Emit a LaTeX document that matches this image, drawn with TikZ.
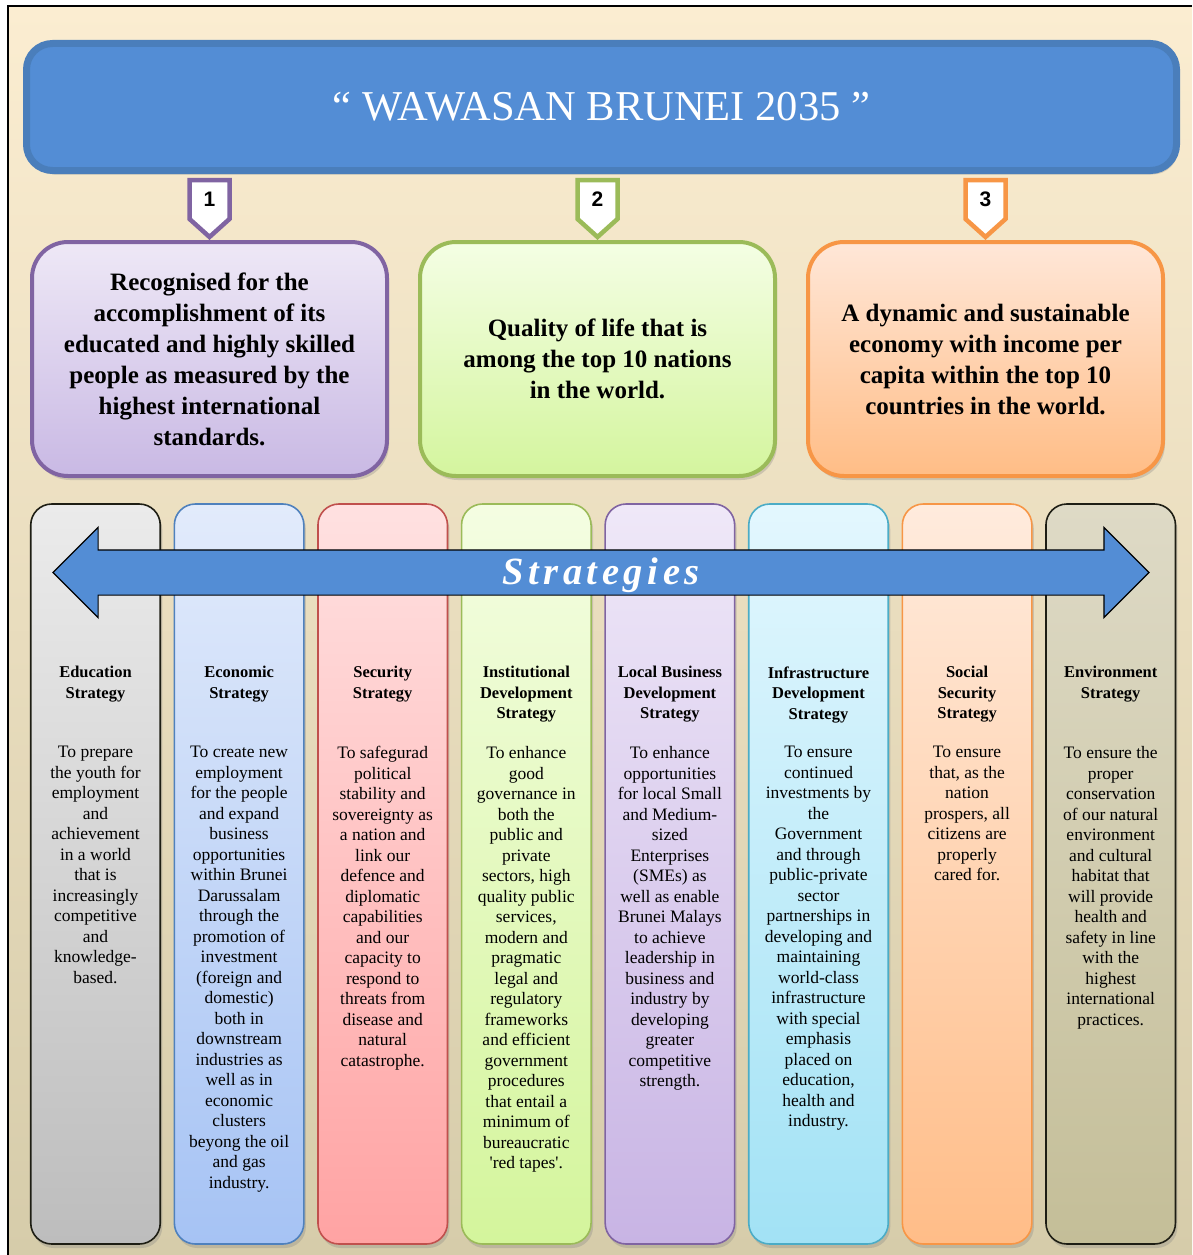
\documentclass[tikz,border=0pt]{standalone}
\usepackage{fontspec}
\setmainfont{Liberation Serif}
\newfontfamily\stratfont[LetterSpace=12]{Liberation Serif}
\newfontfamily\numfont{Liberation Sans}
\usepackage{tikz}
\usetikzlibrary{positioning}
\usetikzlibrary{shapes}
\usetikzlibrary{chains}
\usetikzlibrary{shadows}

\definecolor{bgtop}{HTML}{FBEDD1}
\definecolor{bgbot}{HTML}{D6CCAA}
\definecolor{titleblue}{HTML}{538DD5}
\definecolor{titleline}{HTML}{4A7EBB}
\definecolor{purpleline}{HTML}{8064A2}
\definecolor{greenline}{HTML}{9BBB59}
\definecolor{orangeline}{HTML}{F79646}
\definecolor{blueline}{HTML}{4F81BD}
\definecolor{redline}{HTML}{C0504D}
\definecolor{cyanline}{HTML}{4BACC6}
\definecolor{darkline}{HTML}{1E1E14}
% goal fills
\definecolor{g1top}{HTML}{EEE8F6} \definecolor{g1bot}{HTML}{C9B9E4}
\definecolor{g2top}{HTML}{F4FEE4} \definecolor{g2bot}{HTML}{D4F59E}
\definecolor{g3top}{HTML}{FFE7D8} \definecolor{g3bot}{HTML}{FFBD86}
% column fills
\definecolor{s1top}{HTML}{EBEBEB} \definecolor{s1bot}{HTML}{BDBDBD}
\definecolor{s2top}{HTML}{E2EBFB} \definecolor{s2bot}{HTML}{A6C3F4}
\definecolor{s3top}{HTML}{FFE1E1} \definecolor{s3bot}{HTML}{FFA3A3}
\definecolor{s4top}{HTML}{F4FDE2} \definecolor{s4bot}{HTML}{D4F59C}
\definecolor{s5top}{HTML}{EFE8F8} \definecolor{s5bot}{HTML}{C8B4E4}
\definecolor{s6top}{HTML}{E3F7FE} \definecolor{s6bot}{HTML}{A2E2F5}
\definecolor{s7top}{HTML}{FFEBDD} \definecolor{s7bot}{HTML}{FFBD88}
\definecolor{s8top}{HTML}{DEDAC6} \definecolor{s8bot}{HTML}{C4BE98}

\begin{document}
\begin{tikzpicture}[
    x=1pt, y=-1pt,            % work on the pixel grid, y going down
    start chain=going right,  % strategy columns run left-to-right
    node distance=12.5pt,     % gap between the columns
    ]
% -------------------------------------------------
\tikzset{
  base/.style={align=center, inner sep=0pt},
  shade/.style={drop shadow={opacity=.3, shadow xshift=2pt, shadow yshift=-4pt}},
  banner/.style={base, shade, draw=titleline, fill=titleblue, line width=7pt, rounded corners=26pt, minimum width=1150pt, minimum height=127pt, text=white, font=\fontsize{42.5}{48}\selectfont},
  goal/.style={base, shade, draw, line width=4pt, rounded corners=36pt, minimum width=355pt, minimum height=234pt, font=\fontsize{25}{31}\selectfont\bfseries},
  badge/.style={base, draw, fill=white, signal, signal to=south, signal pointer angle=96, line width=4.5pt, minimum width=40pt, minimum height=44pt, font=\numfont\fontsize{21}{24}\selectfont\bfseries},
  col/.style={base, shade, draw, on chain, line width=1.6pt, rounded corners=21pt, minimum width=129.5pt, minimum height=740pt},
  head/.style={base, font=\fontsize{16.5}{20.5}\selectfont\bfseries},
  body/.style={base, font=\fontsize{17.5}{20.5}\selectfont},
  twoway/.style={draw, double arrow, fill=titleblue, line width=1.2pt, minimum height=1096pt, minimum width=89pt, double arrow head extend=22.5pt, double arrow tip angle=90, inner xsep=0pt, inner ysep=22pt},
  strat/.style={base, text=white, font=\stratfont\fontsize{38.5}{40}\selectfont\bfseries\itshape}
}
% -------------------------------------------------
% Background and frame

\useasboundingbox (0,0) rectangle (1192,1255);
\fill [top color=bgtop, bottom color=bgbot] (8,6) rectangle (1192,1255);
\draw [line width=2pt] (8,1255) -- (8,6) -- (1192,6);

% -------------------------------------------------
% Vision and its three goals

\node [banner] (title) at (601.5,107) {`` WAWASAN BRUNEI 2035 ''};

\node [goal, draw=purpleline, top color=g1top, bottom color=g1bot] (g1) at (209.5,359)
  {Recognised for the\\accomplishment of its\\educated and highly skilled\\people as measured by the\\highest international\\standards.};
\node [goal, draw=greenline, top color=g2top, bottom color=g2bot, right=29pt of g1] (g2)
  {Quality of life that is\\among the top 10 nations\\in the world.};
\node [goal, draw=orangeline, top color=g3top, bottom color=g3bot, right=29pt of g2] (g3)
  {A dynamic and sustainable\\economy with income per\\capita within the top 10\\countries in the world.};

\node [badge, draw=purpleline, above=0pt of g1.north] (n1) {1};
\node [badge, draw=greenline, above=0pt of g2.north] (n2) {2};
\node [badge, draw=orangeline, above=0pt of g3.north] (n3) {3};

% -------------------------------------------------
% Strategy columns

\node [col, draw=darkline, top color=s1top, bottom color=s1bot] (s1) at (95.5,874) {};
\node [col, draw=blueline, top color=s2top, bottom color=s2bot] (s2) {};
\node [col, draw=redline, top color=s3top, bottom color=s3bot] (s3) {};
\node [col, draw=greenline, top color=s4top, bottom color=s4bot] (s4) {};
\node [col, draw=purpleline, top color=s5top, bottom color=s5bot] (s5) {};
\node [col, draw=cyanline, top color=s6top, bottom color=s6bot, minimum width=139.5pt] (s6) {};
\node [col, draw=orangeline, top color=s7top, bottom color=s7bot] (s7) {};
\node [col, draw=darkline, top color=s8top, bottom color=s8bot] (s8) {};

\node [head, below=163pt of s1.north] (h1) {Education\\Strategy};
\node [head, below=163pt of s2.north] (h2) {Economic\\Strategy};
\node [head, below=163pt of s3.north] (h3) {Security\\Strategy};
\node [head, below=163pt of s4.north] (h4) {Institutional\\Development\\Strategy};
\node [head, below=163pt of s5.north] (h5) {Local Business\\Development\\Strategy};
\node [head, below=163pt of s6.north] (h6) {Infrastructure\\Development\\Strategy};
\node [head, below=163pt of s7.north] (h7) {Social\\Security\\Strategy};
\node [head, below=163pt of s8.north] (h8) {Environment\\Strategy};

\node [body, below=243pt of s1.north] (t1) {To prepare\\the youth for\\employment\\and\\achievement\\in a world\\that is\\increasingly\\competitive\\and\\knowledge-\\based.};
\node [body, below=243pt of s2.north] (t2) {To create new\\employment\\for the people\\and expand\\business\\opportunities\\within Brunei\\Darussalam\\through the\\promotion of\\investment\\(foreign and\\domestic)\\both in\\downstream\\industries as\\well as in\\economic\\clusters\\beyong the oil\\and gas\\industry.};
\node [body, below=243pt of s3.north] (t3) {To safegurad\\political\\stability and\\sovereignty as\\a nation and\\link our\\defence and\\diplomatic\\capabilities\\and our\\capacity to\\respond to\\threats from\\disease and\\natural\\catastrophe.};
\node [body, below=243pt of s4.north] (t4) {To enhance\\good\\governance in\\both the\\public and\\private\\sectors, high\\quality public\\services,\\modern and\\pragmatic\\legal and\\regulatory\\frameworks\\and efficient\\government\\procedures\\that entail a\\minimum of\\bureaucratic\\\textquotesingle red tapes\textquotesingle.};
\node [body, below=243pt of s5.north] (t5) {To enhance\\opportunities\\for local Small\\and Medium-\\sized\\Enterprises\\(SMEs) as\\well as enable\\Brunei Malays\\to achieve\\leadership in\\business and\\industry by\\developing\\greater\\competitive\\strength.};
\node [body, below=243pt of s6.north] (t6) {To ensure\\continued\\investments by\\the\\Government\\and through\\public-private\\sector\\partnerships in\\developing and\\maintaining\\world-class\\infrastructure\\with special\\emphasis\\placed on\\education,\\health and\\industry.};
\node [body, below=243pt of s7.north] (t7) {To ensure\\that, as the\\nation\\prospers, all\\citizens are\\properly\\cared for.};
\node [body, below=243pt of s8.north] (t8) {To ensure the\\proper\\conservation\\of our natural\\environment\\and cultural\\habitat that\\will provide\\health and\\safety in line\\with the\\highest\\international\\practices.};

% -------------------------------------------------
% The arrow across all strategies

\node [twoway] (arrow) at (601,572.5) {};
\node [strat, yshift=-3pt] (strat) at (arrow.center) {Strategies};

\end{tikzpicture}
\end{document}
